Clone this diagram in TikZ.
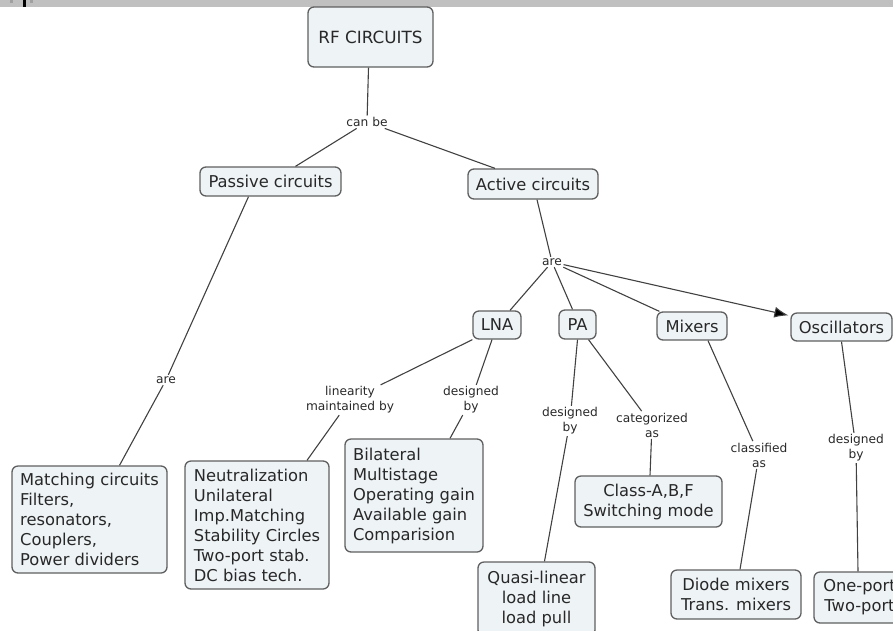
\documentclass[tikz,border=0pt]{standalone}
\usepackage{fontspec}
\setmainfont{DejaVu Sans}
\usetikzlibrary{arrows.meta}
\definecolor{boxfill}{RGB}{238,243,246}
\definecolor{boxline}{RGB}{95,95,95}
\definecolor{ink}{RGB}{40,40,40}
\definecolor{wire}{RGB}{65,65,65}
\definecolor{barfill}{RGB}{192,192,192}
\definecolor{barmark}{RGB}{160,160,160}

\begin{document}
\begin{tikzpicture}[x=1pt,y=-1pt,
  concept/.style={draw=boxline, fill=boxfill, line width=1.3pt, rounded corners=6pt,
    text=ink, font=\fontsize{16.3}{20}\selectfont, inner sep=0pt},
  linkword/.style={text=ink, font=\fontsize{12.2}{15}\selectfont, align=center, inner sep=1.5pt},
  conn/.style={draw=wire, line width=1.1pt},
  arrowconn/.style={conn, -{Latex[length=14pt,width=11pt,fill=black]}},
]
\useasboundingbox (0,0) rectangle (893,630);
\clip (0,0) rectangle (893,630);

% window strip along the top edge
\fill[barfill] (0,0) rectangle (893,6.5);
\fill[barmark] (10,0) rectangle (13,3);
\fill[barmark] (30,0) rectangle (33,3);
\fill[black] (23,0) rectangle (26,6.5);

% concepts
\node[concept, font=\fontsize{16.8}{20}\selectfont, minimum width=125pt, minimum height=60pt] (rf) at (370.5,37) {RF CIRCUITS};
\node[concept, minimum width=141pt, minimum height=29pt] (passive) at (270.5,181.5) {Passive circuits};
\node[concept, minimum width=130pt, minimum height=30pt] (active) at (533,184) {Active circuits};
\node[concept, minimum width=48pt, minimum height=28pt] (lna) at (497,325) {LNA};
\node[concept, minimum width=37pt, minimum height=29pt] (pa) at (577.5,324.5) {PA};
\node[concept, minimum width=70pt, minimum height=28pt] (mixers) at (692,326) {Mixers};
\node[concept, minimum width=101pt, minimum height=28pt] (osc) at (841.5,327) {Oscillators};

\node[concept, align=left, minimum width=155pt, minimum height=107pt] (matching) at (89.5,519.5)
  {Matching circuits\\Filters,\\resonators,\\Couplers,\\Power dividers};
\node[concept, align=left, minimum width=144pt, minimum height=128pt] (neutral) at (257,525)
  {Neutralization\\Unilateral\\Imp.Matching\\Stability Circles\\Two-port stab.\\DC bias tech.};
\node[concept, align=left, minimum width=138pt, minimum height=113pt] (bilateral) at (414,495.5)
  {Bilateral\\Multistage\\Operating gain\\Available gain\\Comparision};
\node[concept, align=center, minimum width=117pt, minimum height=74pt] (quasi) at (536.5,599)
  {Quasi-linear\\load line\\load pull};
\node[concept, align=center, minimum width=147pt, minimum height=51pt] (classes) at (648.5,501.5)
  {Class-A,B,F\\Switching mode};
\node[concept, align=center, minimum width=130pt, minimum height=49pt] (diode) at (736,594.5)
  {Diode mixers\\Trans. mixers};
\node[concept, align=center, minimum width=91pt, minimum height=51pt] (ports) at (859.5,597.5)
  {One-port\\Two-port};

% linking phrases
\node[linkword] (canbe) at (367,122) {can be};
\node[linkword] (are1) at (166,380) {are};
\node[linkword] (are2) at (552,262) {are};
\node[linkword] (linear) at (350,400) {linearity\\maintained by};
\node[linkword] (des1) at (471,400) {designed\\by};
\node[linkword] (des2) at (570,421) {designed\\by};
\node[linkword] (categ) at (652,425) {categorized\\as};
\node[linkword] (classif) at (759,455) {classified\\as};
\node[linkword] (des3) at (856,448) {designed\\by};

% connectors
\draw[conn] ([xshift=-2pt]rf.south) -- (canbe);
\draw[conn] (canbe) -- ([xshift=25pt]passive.north);
\draw[conn] (canbe) -- ([xshift=-38pt]active.north);

\draw[conn] ([xshift=-22pt]passive.south) -- (are1);
\draw[conn] (are1) -- ([xshift=30pt]matching.north);

\draw[conn] ([xshift=4pt]active.south) -- (are2);
\draw[conn] (are2) -- ([xshift=13pt]lna.north);
\draw[conn] (are2) -- ([xshift=-5pt]pa.north);
\draw[conn] (are2) -- ([xshift=3pt]mixers.north west);
\draw[arrowconn] (are2) -- ([xshift=-2pt,yshift=-3pt]osc.north west);

\draw[conn] (lna.south west) -- (linear);
\draw[conn] (linear) -- ([xshift=50pt]neutral.north);
\draw[conn] ([xshift=-5pt]lna.south) -- (des1);
\draw[conn] (des1) -- ([xshift=36pt]bilateral.north);

\draw[conn] (pa.south) -- (des2);
\draw[conn] (des2) -- ([xshift=8pt]quasi.north);
\draw[conn] ([xshift=11pt]pa.south) -- (categ);
\draw[conn] (categ) -- ([xshift=1.5pt]classes.north);

\draw[conn] ([xshift=16pt]mixers.south) -- (classif);
\draw[conn] (classif) -- ([xshift=4pt]diode.north);

\draw[conn] (osc.south) -- (des3);
\draw[conn] (des3) -- ([xshift=-1.5pt]ports.north);
\end{tikzpicture}
\end{document}
